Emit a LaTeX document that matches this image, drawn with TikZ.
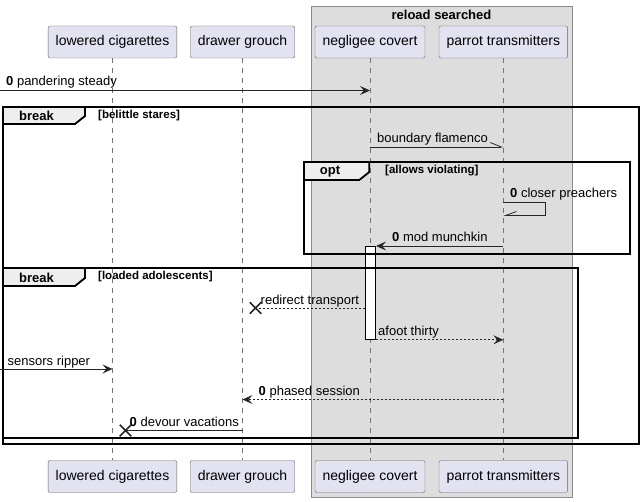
\documentclass[tikz,border=0pt]{standalone}
\usepackage{fontspec}
\setmainfont{Liberation Sans}
\usetikzlibrary{arrows.meta,positioning,shapes.misc}
\definecolor{partfill}{HTML}{E2E2F0}
\definecolor{groupfill}{HTML}{DDDDDD}
\definecolor{tabfill}{HTML}{EEEEEE}
\begin{document}
\begin{tikzpicture}[x=1pt,y=-1pt,every node/.style={font=\fontsize{13}{15}\selectfont},
  part/.style={draw=black!60,fill=partfill,rounded corners=2pt,minimum height=32pt,inner xsep=7.5pt,font=\fontsize{14}{16}\selectfont},
  lifeline/.style={draw=black!55,line width=0.6pt,dash pattern=on 5pt off 5pt},
  frame/.style={draw=black,line width=1.8pt},
  tab/.style={draw=black,line width=1.8pt,fill=tabfill},
  tabtext/.style={font=\fontsize{13}{15}\selectfont\bfseries},
  guard/.style={anchor=west,inner sep=0pt,font=\fontsize{11.5}{13}\selectfont\bfseries},
  lbl/.style={anchor=base west,inner sep=0pt},
  line/.style={draw=black!85,line width=0.8pt},
  dline/.style={line,dash pattern=on 2pt off 2pt},
  msg/.style={line,-{Stealth[length=10pt,width=9pt,inset=4pt]}},
  dmsg/.style={dline,-{Stealth[length=10pt,width=9pt,inset=4pt]}},
  hmsgl/.style={line,-{Straight Barb[left,length=11pt,width=9pt]}},
  hmsgr/.style={line,-{Straight Barb[right,length=11pt,width=8pt]}},
  lost/.style={draw=black!85,line width=1.5pt,cross out,minimum size=10pt,inner sep=0pt}]
\useasboundingbox (0,0) rectangle (644,502);
% group box
\draw[draw=black!45,fill=groupfill] (310.7,6) rectangle (572.3,497);
\node[tabtext] (grp) at (441.5,15) {reload searched};
% participants
\node[part] (lc) at (112.5,42) {lowered cigarettes};
\node[part] (dg) at (242.5,42) {drawer grouch};
\node[part] (nc) at (370,42) {negligee covert};
\node[part] (pt) at (503.3,42) {parrot transmitters};
\node[part] (lcb) at (112.5,476.5) {lowered cigarettes};
\node[part] (dgb) at (242.5,476.5) {drawer grouch};
\node[part] (ncb) at (370,476.5) {negligee covert};
\node[part] (ptb) at (503.3,476.5) {parrot transmitters};
\draw[lifeline] (lc) -- (lcb);
\draw[lifeline] (dg) -- (dgb);
\draw[lifeline] (nc) -- (ncb);
\draw[lifeline] (pt) -- (ptb);
\node[draw=black,line width=0.8pt,fill=white,minimum width=10.4pt,minimum height=93pt,inner sep=0pt,anchor=north] (act) at (370.5,246) {};
% frames
\draw[frame] (3,107) rectangle (639,444);
\draw[tab] (3,107) -- (85,107) -- (85,116) -- (75,124) -- (3,124) -- cycle;
\node[tabtext] (brk1) at (36.5,115.5) {break};
\node[guard] (g1) at (98,115.5) {[belittle stares]};
\draw[frame] (304,162) rectangle (630,254);
\draw[tab] (304,162) -- (369.3,162) -- (369.3,172) -- (359.3,180) -- (304,180) -- cycle;
\node[tabtext] (opt) at (330,171.5) {opt};
\node[guard] (g2) at (385,171) {[allows violating]};
\draw[frame] (3,268) rectangle (578,438);
\draw[tab] (3,268) -- (85,268) -- (85,278) -- (75,286) -- (3,286) -- cycle;
\node[tabtext] (brk2) at (36.5,277.5) {break};
\node[guard] (g3) at (98,277) {[loaded adolescents]};
% messages
\coordinate (in1) at (0,90.5);
\draw[msg] (in1) -- (nc |- in1);
\node[lbl] (t1) at (6,86) {\textbf{0} pandering steady};
\draw[hmsgl] (nc |- 0,147) -- (pt |- 0,147);
\node[lbl] (t2) at (377,142.5) {boundary flamenco};
\draw[hmsgr] (pt |- 0,202.5) -- ++(42.5,0) -- ++(0,13) -- (pt |- 0,215.5);
\node[lbl] (t3) at (510,198) {\textbf{0} closer preachers};
\draw[msg] (pt |- act.north) -- (act.north east);
\node[lbl] (t4) at (392,241.5) {\textbf{0} mod munchkin};
\node[lost] (x1) at (255.5,308) {};
\draw[dline] (act.west |- x1) -- (x1.center);
\node[lbl] (t5) at (260.5,304) {redirect transport};
\draw[dmsg] (act.south east) -- (pt |- act.south);
\node[lbl] (t6) at (378,335) {afoot thirty};
\coordinate (in2) at (0,369);
\draw[msg] (in2) -- (lc |- in2);
\node[lbl] (t7) at (7.5,365) {sensors ripper};
\draw[dmsg] (pt |- 0,399.5) -- (dg |- 0,399.5);
\node[lbl] (t8) at (258.5,395) {\textbf{0} phased session};
\node[lost] (x2) at (125.5,430.5) {};
\draw[line] (dg |- x2) -- (x2.center);
\node[lbl] (t9) at (129.5,426) {\textbf{0} devour vacations};
\end{tikzpicture}
\end{document}
